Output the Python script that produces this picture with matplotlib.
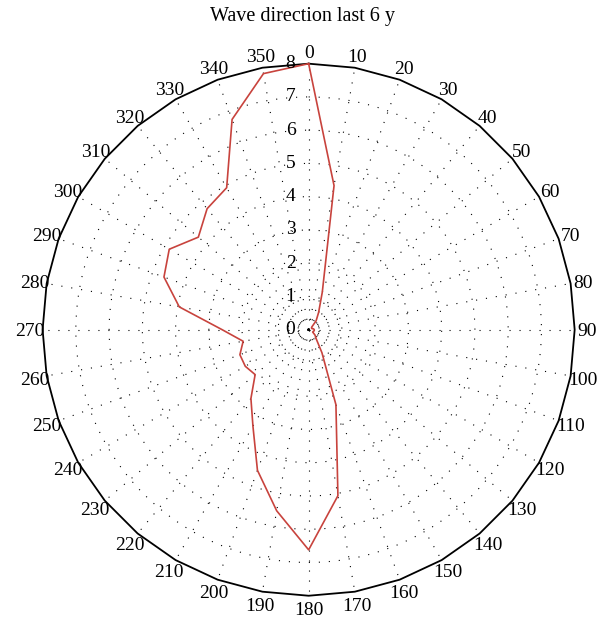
import numpy as np
import matplotlib.pyplot as plt
from matplotlib.transforms import offset_copy

# wave direction (deg, clockwise from north) and radial value
directions = list(range(0, 360, 10))
values = [8.0, 4.4, 1.2, 0.6, 0.35, 0.12, 0.1, 0.1, 0.15, 0.17,
          0.17, 0.15, 0.14, 0.25, 0.35, 0.8, 2.4, 5.07, 6.62, 5.53,
          4.5, 3.35, 2.7, 2.1, 2.2, 2.2, 2.0, 2.6, 3.95, 4.63,
          4.84, 4.33, 4.75, 4.93, 6.73, 7.82]
r_ticks = [0, 1, 2, 3, 4, 5, 6, 7, 8]
r_max = 8
title = 'Wave direction last 6 y'

plt.rcParams['font.family'] = ['Liberation Serif', 'DejaVu Serif']

fig = plt.figure(figsize=(6.06, 6.18), dpi=100)
ax = fig.add_axes([0.0703, 0.036, 0.878, 0.861], projection='polar')
ax.set_theta_zero_location('N')
ax.set_theta_direction(-1)
ax.set_ylim(0, r_max)
ax.spines['polar'].set_visible(False)

dot = (0, (1, 8))
theta_grid = np.deg2rad(directions)
ax.set_xticks(theta_grid)
ax.set_xticklabels([])
ax.set_yticks(r_ticks[1:-1])
ax.set_yticklabels([])
ax.xaxis.grid(True, color='black', linewidth=0.8, linestyle=dot)
ax.yaxis.grid(True, color='black', linewidth=0.8, linestyle=dot)

# outer boundary drawn as 36-gon
th_closed = np.append(theta_grid, theta_grid[0])
ax.plot(th_closed, [r_max] * len(th_closed), color='black', linewidth=1.3, clip_on=False)

# direction labels centred just outside the boundary
for d, th in zip(directions, theta_grid):
    ax.text(th, r_max * 1.047, str(d), ha='center', va='center_baseline',
            fontsize=14, clip_on=False)

# radial labels left of the 0 spoke
lab_tr = offset_copy(ax.transData, fig=fig, x=-13, y=0, units='points')
for k in r_ticks:
    ax.text(0, k, str(k), transform=lab_tr, ha='center', va='center', fontsize=14)

vals = np.append(values, values[0])
ax.plot(th_closed, vals, color='#c8433d', linewidth=1.2, clip_on=False)

fig.text(0.5, 1 - 16 / 618, title, ha='center', va='center', fontsize=14.5)

fig.savefig('out.png', dpi=100)
